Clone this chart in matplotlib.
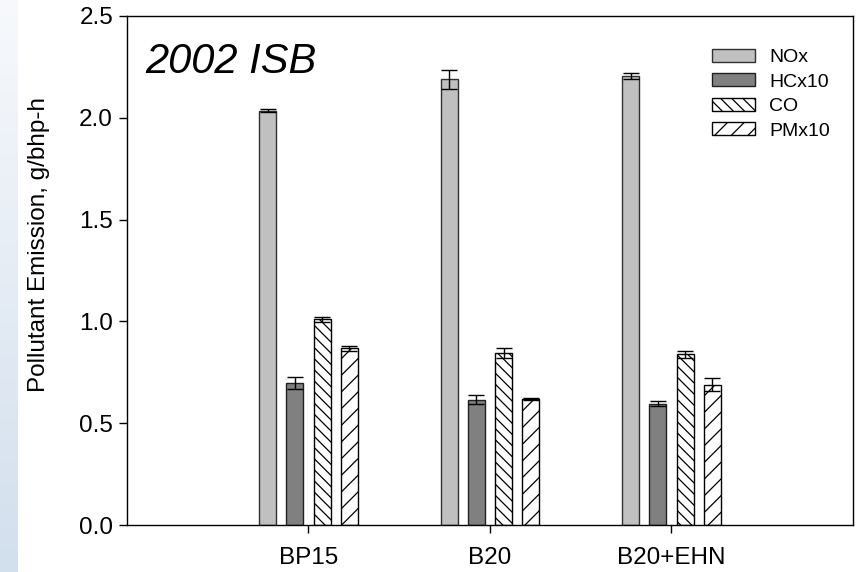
import numpy as np
import matplotlib
matplotlib.use("Agg")
import matplotlib.pyplot as plt
from matplotlib.colors import LinearSegmentedColormap

plt.rcParams['font.family'] = ['Liberation Sans', 'DejaVu Sans']
plt.rcParams['hatch.linewidth'] = 0.9

categories = ["BP15", "B20", "B20+EHN"]
series = ["NOx", "HCx10", "CO", "PMx10"]
nox = [2.035, 2.189, 2.207]
nox_err = [0.008, 0.048, 0.015]
hc = [0.699, 0.616, 0.596]
hc_err = [0.030, 0.022, 0.012]
co = [1.010, 0.846, 0.838]
co_err = [0.012, 0.025, 0.016]
pm = [0.868, 0.619, 0.689]
pm_err = [0.012, 0.004, 0.031]

values = [nox, hc, co, pm]
errors = [nox_err, hc_err, co_err, pm_err]
facecolors = ["#c0c0c0", "#808080", "white", "white"]
edgecolors = ["#303030", "#202020", "black", "black"]
hatches = [None, None, "\\\\\\", "//"]
offsets = [-0.225, -0.075, 0.075, 0.225]
width = 0.093

fig = plt.figure(figsize=(8.62, 5.72), dpi=100)
# left gradient strip
grad_ax = fig.add_axes([0, 0, 18/862, 1])
grad = np.linspace(0, 1, 256).reshape(-1, 1)
cmap = LinearSegmentedColormap.from_list("g", ["#d2dfed", "#f7f9fc"])
grad_ax.imshow(grad, aspect='auto', cmap=cmap, origin='lower', extent=[0, 1, 0, 1])
grad_ax.set_axis_off()

ax = fig.add_axes([127/862, 1 - 525/572, 726/862, 509/572])
x = np.arange(1, len(categories) + 1)
handles = []
for i, name in enumerate(series):
    bars = ax.bar(x + offsets[i], values[i], width, color=facecolors[i],
                  edgecolor=edgecolors[i], linewidth=1.0, hatch=hatches[i],
                  label=name, zorder=2)
    ax.errorbar(x + offsets[i], values[i], yerr=errors[i], fmt='none',
                ecolor='black', elinewidth=1.0, capsize=5.8, capthick=1.0, zorder=3)
    handles.append(bars)

ax.set_xlim(0, 4)
ax.set_ylim(0, 2.5)
ax.set_xticks(x)
ax.set_xticklabels(categories)
ax.set_yticks([0, 0.5, 1.0, 1.5, 2.0, 2.5])
ax.set_yticklabels(["0.0", "0.5", "1.0", "1.5", "2.0", "2.5"])
ax.tick_params(axis='both', direction='out', length=6, width=1.0, labelsize=17.5, colors='black')
ax.tick_params(axis='x', pad=10)
ax.tick_params(axis='y', pad=4)
for s in ax.spines.values():
    s.set_linewidth(1.0)

fig.text(39/862, 1 - 244/572, "Pollutant Emission, g/bhp-h", fontsize=17.5,
         rotation=90, ha='center', va='center')

ax.text(0.0248, 0.888, "2002 ISB", transform=ax.transAxes, fontsize=30,
        fontstyle='italic', va='baseline', ha='left')

leg = ax.legend(handles=handles, labels=series, loc='upper left',
                bbox_to_anchor=(0.806, 0.936), frameon=False, fontsize=14,
                handlelength=2.2, handleheight=0.68, handletextpad=0.72,
                labelspacing=0.36, borderpad=0, borderaxespad=0)

fig.savefig("out.png", dpi=100)
